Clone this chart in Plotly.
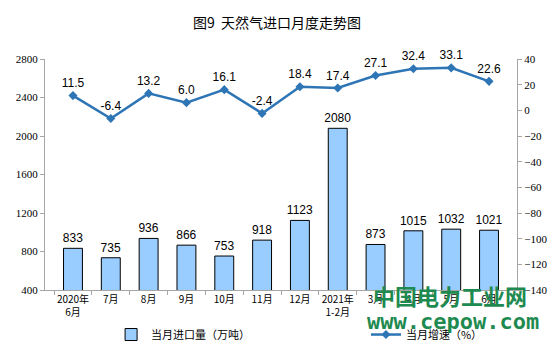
import plotly.graph_objects as go

categories = ["2020年<br>6月", "7月", "8月", "9月", "10月", "11月", "12月",
              "2021年<br>1-2月", "3月", "4月", "5月", "6月"]
imports = [833, 735, 936, 866, 753, 918, 1123, 2080, 873, 1015, 1032, 1021]
growth = [11.5, -6.4, 13.2, 6.0, 16.1, -2.4, 18.4, 17.4, 27.1, 32.4, 33.1, 22.6]

fig = go.Figure()
fig.add_trace(go.Bar(
    x=categories, y=imports, name="当月进口量（万吨）",
    marker=dict(color="#99CCFF", line=dict(color="black", width=1)),
    width=0.5, text=[str(v) for v in imports], textposition="outside",
    constraintext="none",
    textfont=dict(size=12, color="black", family="Liberation Sans"),
    cliponaxis=False, legend="legend",
))
fig.add_trace(go.Scatter(
    x=categories, y=growth, name="当月增速（%）", yaxis="y2",
    mode="lines+markers+text",
    line=dict(color="#2E75B6", width=2.5),
    marker=dict(symbol="diamond", size=7, color="#2E75B6"),
    text=[f"{v:.1f}" for v in growth], textposition="top center",
    textfont=dict(size=12, color="black", family="Liberation Sans"),
    cliponaxis=False, legend="legend2",
))

legend_style = dict(orientation="h", y=-0.13, yanchor="top", xanchor="left",
                    font=dict(size=11), bgcolor="rgba(0,0,0,0)")

fig.update_layout(
    width=554, height=353,
    margin=dict(l=45, r=37, t=59, b=63, autoexpand=False),
    paper_bgcolor="white", plot_bgcolor="white",
    font=dict(family="Noto Sans CJK SC", size=10, color="black"),
    title=dict(text="图9  天然气进口月度走势图", x=0.5, y=0.935, xanchor="center",
               yanchor="middle", font=dict(size=14, family="Noto Sans CJK SC")),
    xaxis=dict(showline=True, linecolor="#A6A6A6", ticks="outside", tickson="boundaries",
               ticklen=4, tickcolor="#A6A6A6", tickfont=dict(size=10), showgrid=False,
               tickangle=0),
    yaxis=dict(range=[400, 2800], dtick=400, showline=True, linecolor="#A6A6A6",
               ticks="outside", ticklen=4, tickcolor="#A6A6A6", showgrid=False,
               zeroline=False, tickfont=dict(family="Liberation Serif", size=11)),
    yaxis2=dict(range=[-140, 40], dtick=20, overlaying="y", side="right", showline=True,
                linecolor="#A6A6A6", ticks="outside", ticklen=4, tickcolor="#A6A6A6",
                showgrid=False, zeroline=False,
                tickfont=dict(family="Liberation Serif", size=11)),
    legend=dict(x=0.14, **legend_style),
    legend2=dict(x=0.68, **legend_style),
    showlegend=True,
)

fig.add_annotation(text="<b>中国电力工业网</b>", xref="paper", yref="paper",
                   x=1.025, y=-0.02, xanchor="right", yanchor="middle", showarrow=False,
                   font=dict(size=22, color="#1E8A50", family="Noto Sans CJK SC"))
fig.add_annotation(text="<b>www.cepow.com</b>", xref="paper", yref="paper",
                   x=1.05, y=-0.135, xanchor="right", yanchor="middle", showarrow=False,
                   font=dict(size=22, color="#1E8A50", family="DejaVu Sans Mono"))

fig.write_html("out.html")
